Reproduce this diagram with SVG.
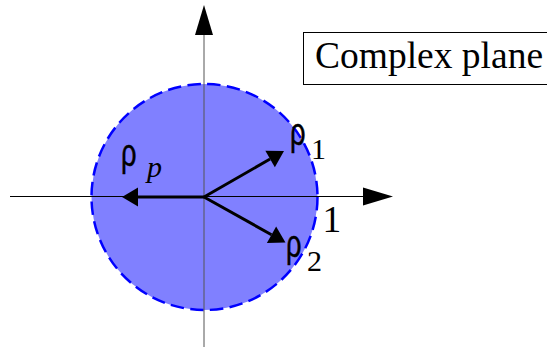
<svg xmlns="http://www.w3.org/2000/svg" width="547" height="347" viewBox="0 0 547 347">
  <style>
    .serif { font-family: "Liberation Serif", "Times New Roman", serif; fill: #000; }
    .rho { font-family: "Liberation Sans", Arial, sans-serif; font-size: 39px; fill: #000; stroke: #000; stroke-width: 0.5; }
    .sub { font-size: 30px; }
    .big { font-size: 37.5px; }
    .axis { stroke: #000; stroke-width: 1; fill: none; }
    .vec { stroke: #000; stroke-width: 3; fill: none; }
  </style>
  <defs>
    <marker id="axisHead" markerUnits="userSpaceOnUse" markerWidth="32" markerHeight="20" viewBox="0 -10 32 20" refX="0" refY="0" orient="auto" overflow="visible">
      <path d="M0,-9 L30,0 L0,9 Z" fill="#000"/>
    </marker>
    <marker id="vecHead" markerUnits="userSpaceOnUse" markerWidth="18" markerHeight="20" viewBox="0 -10 18 20" refX="0" refY="0" orient="auto" overflow="visible">
      <path d="M0,-9.5 L16,0 L0,9.5 Z" fill="#000"/>
    </marker>
  </defs>

  <rect width="547" height="347" fill="#fff"/>

  <g id="unit-disk">
    <circle cx="204.5" cy="197" r="113" fill="#8080ff" stroke="#0000ff" stroke-width="2.5" stroke-dasharray="13.5 6.3"/>
  </g>

  <g id="connectors">
    <line id="imag-axis" x1="204" y1="347" x2="204" y2="35" class="axis" style="stroke:#555" marker-end="url(#axisHead)"/>
    <line id="real-axis" x1="10" y1="196.5" x2="363" y2="196.5" class="axis" marker-end="url(#axisHead)"/>
    <line id="vec-p" x1="204" y1="197" x2="138" y2="197" class="vec" marker-end="url(#vecHead)"/>
    <line id="vec-1" x1="204" y1="197" x2="270.1" y2="159" class="vec" marker-end="url(#vecHead)"/>
    <line id="vec-2" x1="204" y1="197" x2="271.5" y2="234.7" class="vec" marker-end="url(#vecHead)"/>
  </g>

  <g id="label-rho-p">
    <text class="rho" transform="translate(121,166) scale(0.7,1)">ρ</text>
    <text class="serif sub" x="147" y="177" font-style="italic">p</text>
  </g>
  <g id="label-rho-1">
    <text class="rho" transform="translate(290,145) scale(0.7,1)">ρ</text>
    <text class="serif sub" x="311" y="158.5">1</text>
  </g>
  <g id="label-rho-2">
    <text class="rho" transform="translate(286,257) scale(0.7,1)">ρ</text>
    <text class="serif sub" x="307" y="271">2</text>
  </g>
  <g id="label-one">
    <text class="serif big" x="322.5" y="231.7">1</text>
  </g>

  <g id="title-box">
    <rect x="303.5" y="32.5" width="260" height="52" fill="#fff" stroke="#000" stroke-width="1"/>
    <text class="serif big" x="315" y="68.3">Complex plane</text>
  </g>
</svg>
